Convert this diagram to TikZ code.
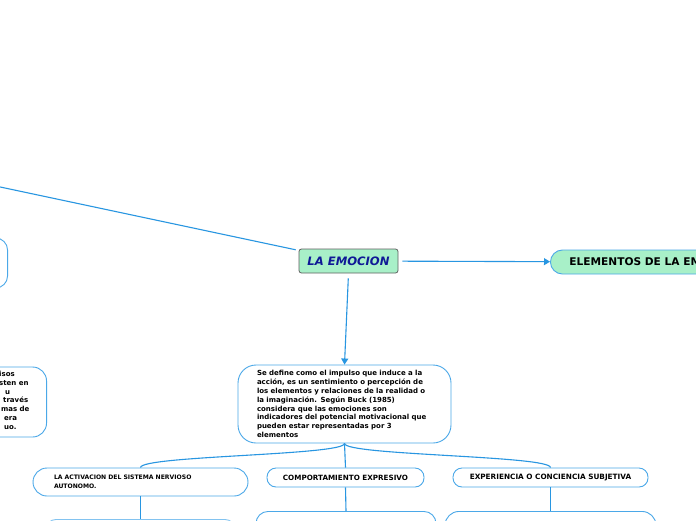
\documentclass[tikz,border=0pt]{standalone}
\usepackage{fontspec}
\setmainfont{DejaVu Sans}
\usetikzlibrary{arrows.meta}
\definecolor{lineblue}{RGB}{40,150,225}
\definecolor{boxblue}{RGB}{75,168,232}
\definecolor{paleblue}{RGB}{130,195,240}
\definecolor{mint}{RGB}{168,240,200}
\definecolor{navy}{RGB}{15,25,150}
\begin{document}
\begin{tikzpicture}[x=1pt,y=-1pt,
  conn/.style={draw=lineblue, line width=1.1pt},
  tip/.style={-{Triangle[length=6pt,width=7pt]}},
  rbox/.style={draw=boxblue, line width=0.9pt, fill=white, rounded corners=#1},
  rbox/.default=12pt,
  small/.style={font=\fontsize{7}{8.8}\selectfont\bfseries},
  emostyle/.style={draw=gray!75!black, line width=0.8pt, fill=mint, rounded corners=2.5pt,
    minimum width=99pt, minimum height=24pt, inner sep=0pt,
    font=\fontsize{11.6}{13}\selectfont\bfseries\itshape, text=navy}]
\clip (0,0) rectangle (696,520);
\fill[white] (0,0) rectangle (696,520);

% left boxes (mostly off canvas)
\node[rbox=12pt, minimum width=150pt, minimum height=50pt, anchor=east] (lb1) at (8,263) {};
\node[rbox=14pt, minimum width=150pt, minimum height=70pt, anchor=east] (lb2) at (47,402) {};
\node[small, text width=44pt, align=left, anchor=north west, inner sep=0pt] (lb2t) at (-1,371)
  {isos\\sten en\\\hspace*{6pt}u\\\hspace*{4pt}través\\\hspace*{2pt}mas de\\\hspace*{5pt}era\\\hspace*{5pt}uo.};

% main nodes
\coordinate (far) at (-100,165.7);
\node[emostyle] (emo) at (348.5,261) {LA EMOCION};
\node[rbox=12pt, fill=mint, anchor=west, minimum height=24pt, inner xsep=19pt, inner ysep=0pt,
  font=\fontsize{10.6}{12}\selectfont\bfseries] (el) at (550,262) {ELEMENTOS DE LA EMOCION};

\node[rbox=18pt, small, minimum height=78pt, text width=175pt, inner xsep=19pt, align=left] (def) at (344.5,404)
  {Se define como el impulso que induce a la\\
   acción, es un sentimiento o percepción de\\
   los elementos y relaciones de la realidad o\\
   la imaginación. Según Buck (1985)\\
   considera que las emociones son\\
   indicadores del potencial motivacional que\\
   pueden estar representadas por 3\\
   elementos};

\node[rbox=14pt, font=\fontsize{6.1}{8.8}\selectfont\bfseries, minimum height=28pt, text width=173pt, inner xsep=21pt, align=left] (act) at (140.5,482)
  {LA ACTIVACION DEL SISTEMA NERVIOSO\\AUTONOMO.};
\node[rbox=9pt, font=\fontsize{7.2}{8.8}\selectfont\bfseries, minimum width=157pt, minimum height=19pt] (comp) at (345.5,477.5) {COMPORTAMIENTO EXPRESIVO};
\node[rbox=9pt, font=\fontsize{7.3}{8.8}\selectfont\bfseries, minimum width=195pt, minimum height=19pt] (exp) at (550.5,477.5) {EXPERIENCIA O CONCIENCIA SUBJETIVA};

% grandchildren (cut off at the bottom)
\node[rbox=10pt, draw=paleblue, minimum width=189pt, minimum height=60pt, anchor=north] (g1) at (140.5,519) {};
\node[rbox=12pt, minimum width=180pt, minimum height=60pt, anchor=north] (g2) at (346,511) {};
\node[rbox=14pt, minimum width=211pt, minimum height=60pt, anchor=north] (g3) at (550.5,511) {};

% connectors
\draw[conn, shorten >=3pt] (far) -- (emo);
\draw[conn, tip, shorten <=4pt] (emo) -- (el);
\draw[conn, tip, shorten <=5pt] (emo.south) -- (def.north);
\draw[conn] (def.south) .. controls +(0,12) and +(0,-12) .. (act.north);
\draw[conn] (def.south) .. controls +(0,12) and +(0,-12) .. (comp.north);
\draw[conn] (def.south) .. controls +(0,12) and +(0,-12) .. (exp.north);
\draw[conn] (act.south) -- (g1.north);
\draw[conn] (comp.south) -- (g2.north);
\draw[conn] (exp.south) -- (g3.north);
\end{tikzpicture}
\end{document}
